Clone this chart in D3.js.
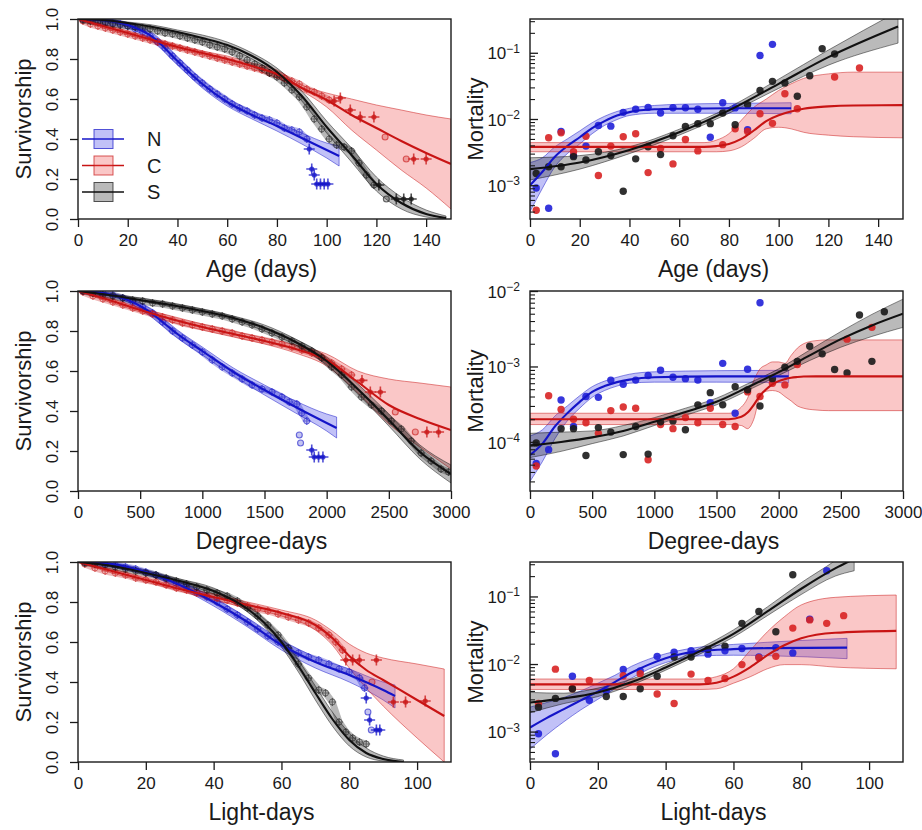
<!DOCTYPE html>
<html lang="en">
<head>
<meta charset="utf-8">
<title>Survivorship and mortality</title>
<script src="https://d3js.org/d3.v7.min.js"></script>
<style>
  body { margin: 0; background: #fff; }
  svg text { font-family: "Liberation Sans", Arial, sans-serif; fill: #1a1a1a; }
</style>
</head>
<body>
<svg id="chart" width="922" height="830"></svg>
<script>

// ---------------- data: survivorship vs age ----------------
var ageN_x   = [0, 10, 20, 30, 40, 50, 60, 70, 80, 90, 100, 105];
var ageN_fit = [1, 0.995, 0.97, 0.91, 0.79, 0.675, 0.585, 0.52, 0.465, 0.405, 0.345, 0.315];
var ageN_lo  = [1, 0.99, 0.96, 0.89, 0.77, 0.655, 0.565, 0.50, 0.44, 0.375, 0.305, 0.265];
var ageN_hi  = [1, 1, 0.98, 0.93, 0.81, 0.695, 0.605, 0.54, 0.485, 0.43, 0.38, 0.365];
var ageN_obs = [[2,1],[5,0.995],[8,0.99],[11,0.985],[14,0.98],[17,0.975],[20,0.965],[23,0.95],[26,0.935],[29,0.915],[32,0.885],[35,0.855],[38,0.815],[41,0.78],[44,0.745],[47,0.71],[50,0.68],[53,0.65],[56,0.625],[59,0.6],[62,0.575],[65,0.555],[68,0.54],[71,0.52],[74,0.505],[77,0.495],[80,0.48],[83,0.455],[86,0.445],[89,0.435],[92,0.40]];
var ageN_tail = [[93,0.35,"+"],[94,0.25,"+"],[95,0.22,"+"],[96,0.175,"+"],[97.5,0.175,"+"],[99,0.175,"+"],[100.5,0.175,"+"]];

var ageC_x   = [0, 10, 20, 30, 40, 50, 60, 70, 80, 90, 100, 110, 120, 130, 140, 150];
var ageC_fit = [1, 0.965, 0.93, 0.895, 0.86, 0.83, 0.80, 0.765, 0.725, 0.655, 0.595, 0.52, 0.455, 0.39, 0.33, 0.275];
var ageC_lo  = [1, 0.955, 0.92, 0.885, 0.85, 0.82, 0.785, 0.75, 0.705, 0.64, 0.56, 0.445, 0.345, 0.245, 0.155, 0.05];
var ageC_hi  = [1, 0.975, 0.94, 0.905, 0.87, 0.84, 0.815, 0.78, 0.745, 0.67, 0.63, 0.60, 0.57, 0.545, 0.52, 0.50];
var ageC_obs = [[2,0.99],[5,0.975],[8,0.965],[11,0.955],[14,0.945],[17,0.935],[20,0.925],[23,0.915],[26,0.905],[29,0.895],[32,0.885],[35,0.875],[38,0.865],[41,0.855],[44,0.845],[47,0.835],[50,0.825],[53,0.815],[56,0.805],[59,0.795],[62,0.785],[65,0.775],[68,0.765],[71,0.755],[74,0.745],[77,0.73],[80,0.72],[83,0.705],[86,0.69],[89,0.675],[92,0.65],[95,0.635],[98,0.615],[101,0.595]];
var ageC_tail = [[103,0.59,"+"],[105.5,0.605,"+"],[109.5,0.545,"+"],[113.5,0.51,"+"],[119,0.51,"+"],[123.5,0.41,"o"],[132,0.30,"o"],[135,0.30,"+"],[140,0.30,"+"]];

var ageS_x   = [0, 10, 20, 30, 40, 50, 60, 70, 80, 90, 100, 110, 120, 130, 140, 148];
var ageS_fit = [1, 0.995, 0.98, 0.96, 0.935, 0.905, 0.87, 0.815, 0.735, 0.615, 0.46, 0.32, 0.175, 0.08, 0.025, 0.005];
var ageS_lo  = [1, 0.99, 0.975, 0.95, 0.925, 0.89, 0.855, 0.80, 0.715, 0.59, 0.43, 0.285, 0.14, 0.05, 0.01, 0];
var ageS_hi  = [1, 1, 0.985, 0.97, 0.945, 0.92, 0.885, 0.83, 0.755, 0.64, 0.49, 0.355, 0.21, 0.11, 0.045, 0.015];
var ageS_obs = [[2,0.995],[5,0.99],[8,0.985],[11,0.98],[14,0.975],[17,0.97],[20,0.965],[23,0.96],[26,0.955],[29,0.95],[32,0.94],[35,0.93],[38,0.925],[41,0.915],[44,0.905],[47,0.895],[50,0.885],[53,0.87],[56,0.86],[59,0.85],[62,0.835],[65,0.815],[68,0.795],[71,0.775],[74,0.755],[77,0.73],[80,0.71],[83,0.68],[86,0.645],[89,0.61],[92,0.56],[95,0.50],[98,0.45],[101,0.40],[104,0.37],[107,0.36],[110,0.34],[113,0.28],[116,0.22],[119,0.17]];
var ageS_tail = [[121,0.17,"+"],[124,0.10,"o"],[128,0.10,"+"],[131,0.10,"+"],[134,0.10,"+"]];

// ---------------- data: mortality vs age ----------------
var ageMN_x   = [0, 5, 10, 15, 20, 25, 30, 35, 40, 50, 60, 80, 105];
var ageMN_fit = [1.0e-3, 1.6e-3, 2.7e-3, 3.9e-3, 5.3e-3, 7.3e-3, 9.3e-3, 0.0113, 0.0127, 0.014, 0.0143, 0.0145, 0.0145];
var ageMN_lo  = [4.0e-4, 9.0e-4, 1.9e-3, 3.0e-3, 4.2e-3, 6.0e-3, 8.0e-3, 9.8e-3, 0.0113, 0.0122, 0.0122, 0.0122, 0.012];
var ageMN_hi  = [2.2e-3, 2.6e-3, 3.8e-3, 5.0e-3, 6.6e-3, 8.8e-3, 0.011, 0.013, 0.0145, 0.016, 0.0167, 0.0172, 0.0176];
var ageMN_pts = [[2.5,9.1e-4],[7.5,4.5e-4],[12.5,6.5e-3],[17.5,2.8e-3],[22.5,3.9e-3],[27.5,8.0e-3],[32.5,7.8e-3],[37.5,0.0126],[42.5,0.014],[47.5,0.015],[52.5,0.0123],[57.5,0.0148],[62.5,0.0148],[67.5,0.014],[72.5,5.3e-3],[77.5,0.0176],[82.5,0.0147],[87.5,6.9e-3],[92.5,0.091],[97.5,0.134]];

var ageMC_x   = [0, 70, 75, 80, 85, 90, 95, 100, 105, 110, 120, 130, 150];
var ageMC_fit = [3.8e-3, 3.8e-3, 3.9e-3, 4.2e-3, 5.0e-3, 6.7e-3, 9.3e-3, 0.0114, 0.013, 0.0143, 0.0155, 0.016, 0.0162];
var ageMC_lo  = [3.2e-3, 3.2e-3, 3.2e-3, 3.3e-3, 3.8e-3, 5.1e-3, 7.1e-3, 7.5e-3, 7.1e-3, 6.3e-3, 5.7e-3, 5.4e-3, 5.2e-3];
var ageMC_hi  = [4.4e-3, 4.4e-3, 4.8e-3, 6.0e-3, 9.6e-3, 0.015, 0.020, 0.027, 0.034, 0.041, 0.048, 0.051, 0.051];
var ageMC_pts = [[2.5,4.2e-4],[7.5,5.2e-3],[12.5,6.2e-3],[17.5,3.2e-3],[22.5,5.5e-3],[27.5,1.4e-3],[32.5,3.9e-3],[37.5,5.4e-3],[42.5,6.0e-3],[47.5,1.55e-3],[52.5,3.6e-3],[57.5,2.1e-3],[62.5,4.9e-3],[67.5,3.3e-3],[77.5,4.1e-3],[82.5,7.1e-3],[87.5,6.5e-3],[92.5,0.012],[97.5,8.6e-3],[102.5,0.024],[107.5,0.0143],[122.5,0.043],[132.5,0.059]];

var ageMS_x   = [0, 20, 40, 60, 80, 100, 120, 148];
var ageMS_fit = [1.75e-3, 2.2e-3, 3.4e-3, 6.3e-3, 0.0135, 0.034, 0.086, 0.25];
var ageMS_lo  = [1.2e-3, 1.75e-3, 3.0e-3, 5.7e-3, 0.0122, 0.029, 0.065, 0.14];
var ageMS_hi  = [2.6e-3, 2.8e-3, 3.8e-3, 7.0e-3, 0.015, 0.040, 0.11, 0.42];
var ageMS_pts = [[2.5,1.5e-3],[7.5,1.9e-3],[12.5,1.9e-3],[17.5,2.7e-3],[22.5,2.4e-3],[27.5,3.2e-3],[32.5,2.8e-3],[37.5,8.1e-4],[42.5,2.5e-3],[47.5,3.8e-3],[52.5,2.9e-3],[57.5,5.6e-3],[62.5,7.7e-3],[67.5,8.5e-3],[72.5,8.5e-3],[77.5,0.0123],[82.5,8.2e-3],[87.5,0.0164],[92.5,0.027],[97.5,0.037],[102.5,0.035],[107.5,0.022],[112.5,0.045],[117.5,0.115],[122.5,0.096]];

// ---------------- data: survivorship vs degree-days ----------------
var ddN_x   = [0, 200, 400, 500, 600, 700, 800, 1000, 1250, 1500, 1750, 2000, 2080];
var ddN_fit = [1, 0.99, 0.955, 0.925, 0.885, 0.835, 0.785, 0.70, 0.595, 0.505, 0.42, 0.34, 0.315];
var ddN_lo  = [1, 0.985, 0.945, 0.91, 0.865, 0.815, 0.765, 0.68, 0.575, 0.48, 0.39, 0.30, 0.265];
var ddN_hi  = [1, 0.995, 0.965, 0.94, 0.905, 0.855, 0.805, 0.72, 0.615, 0.53, 0.45, 0.385, 0.37];
var ddN_obs = [[40,1],[120,0.995],[200,0.99],[280,0.98],[360,0.965],[440,0.945],[520,0.92],[600,0.89],[680,0.845],[760,0.80],[840,0.765],[920,0.73],[1000,0.695],[1080,0.655],[1160,0.62],[1240,0.59],[1320,0.56],[1400,0.53],[1480,0.51],[1560,0.495],[1640,0.47],[1700,0.445],[1760,0.435],[1800,0.39],[1840,0.35]];
var ddN_tail = [[1780,0.28,"o"],[1790,0.24,"o"],[1880,0.205,"+"],[1900,0.17,"+"],[1935,0.17,"+"],[1970,0.17,"+"]];

var ddC_x   = [0, 250, 500, 750, 1000, 1250, 1500, 1750, 2000, 2250, 2500, 2750, 3000];
var ddC_fit = [1, 0.955, 0.905, 0.86, 0.82, 0.785, 0.75, 0.71, 0.655, 0.545, 0.43, 0.36, 0.305];
var ddC_lo  = [1, 0.945, 0.895, 0.845, 0.805, 0.77, 0.735, 0.69, 0.625, 0.49, 0.335, 0.22, 0.11];
var ddC_hi  = [1, 0.965, 0.915, 0.875, 0.835, 0.80, 0.765, 0.73, 0.685, 0.60, 0.56, 0.54, 0.52];
var ddC_obs = [[40,0.995],[120,0.975],[200,0.96],[280,0.945],[360,0.93],[440,0.915],[520,0.90],[600,0.885],[680,0.87],[760,0.855],[840,0.84],[920,0.83],[1000,0.82],[1080,0.81],[1160,0.80],[1240,0.79],[1320,0.775],[1400,0.765],[1480,0.755],[1560,0.745],[1640,0.735],[1720,0.72],[1800,0.705],[1880,0.69],[1960,0.67],[2040,0.64],[2120,0.61],[2200,0.58]];
var ddC_tail = [[2284,0.553,"+"],[2351,0.495,"+"],[2432,0.495,"+"],[2552,0.395,"o"],[2713,0.295,"o"],[2806,0.295,"+"],[2900,0.295,"+"]];

var ddS_x   = [0, 250, 500, 750, 1000, 1250, 1500, 1750, 2000, 2250, 2500, 2750, 3000];
var ddS_fit = [1, 0.98, 0.955, 0.93, 0.90, 0.865, 0.815, 0.745, 0.65, 0.51, 0.355, 0.195, 0.085];
var ddS_lo  = [1, 0.975, 0.95, 0.92, 0.89, 0.855, 0.80, 0.73, 0.63, 0.485, 0.325, 0.16, 0.04];
var ddS_hi  = [1, 0.985, 0.965, 0.94, 0.91, 0.875, 0.83, 0.76, 0.67, 0.535, 0.385, 0.23, 0.13];
var ddS_obs = [[40,1],[120,0.99],[200,0.98],[280,0.975],[360,0.965],[440,0.955],[520,0.95],[600,0.94],[680,0.935],[760,0.925],[840,0.915],[920,0.905],[1000,0.895],[1080,0.885],[1160,0.875],[1240,0.86],[1320,0.845],[1400,0.83],[1480,0.81],[1560,0.79],[1640,0.77],[1720,0.75],[1800,0.725],[1880,0.70],[1960,0.665],[2040,0.62],[2120,0.58],[2200,0.52],[2280,0.47],[2360,0.43],[2440,0.40],[2520,0.35],[2600,0.31],[2680,0.25],[2760,0.19],[2840,0.15],[2920,0.11],[2980,0.095]];
var ddS_tail = [];

// ---------------- data: mortality vs degree-days ----------------
var ddMN_x   = [0, 100, 200, 300, 400, 500, 600, 700, 800, 1000, 1500, 2080];
var ddMN_fit = [6.7e-5, 9.5e-5, 1.6e-4, 2.4e-4, 3.4e-4, 4.6e-4, 5.5e-4, 6.2e-4, 6.7e-4, 7.2e-4, 7.4e-4, 7.4e-4];
var ddMN_lo  = [3.0e-5, 5.5e-5, 1.1e-4, 1.9e-4, 2.8e-4, 3.9e-4, 4.8e-4, 5.5e-4, 6.0e-4, 6.2e-4, 6.2e-4, 6.1e-4];
var ddMN_hi  = [1.2e-4, 1.45e-4, 2.2e-4, 3.0e-4, 4.1e-4, 5.4e-4, 6.4e-4, 7.2e-4, 7.9e-4, 8.5e-4, 8.8e-4, 8.9e-4];
var ddMN_pts = [[50,5.2e-5],[150,7.9e-5],[250,3.6e-4],[350,1.6e-4],[450,4.0e-4],[550,3.9e-4],[650,6.6e-4],[750,5.8e-4],[850,6.6e-4],[950,7.6e-4],[1050,8.9e-4],[1150,7.2e-4],[1250,6.9e-4],[1350,6.6e-4],[1450,3.3e-4],[1550,1.1e-3],[1650,2.4e-4],[1750,9.2e-4],[1850,7.0e-3]];

var ddMC_x   = [0, 1600, 1700, 1750, 1800, 1850, 1900, 1950, 2000, 2050, 2100, 2150, 2200, 2300, 2400, 3000];
var ddMC_fit = [2.0e-4, 2.0e-4, 2.15e-4, 2.45e-4, 3.1e-4, 4.1e-4, 5.0e-4, 5.8e-4, 6.4e-4, 6.8e-4, 7.1e-4, 7.25e-4, 7.35e-4, 7.4e-4, 7.4e-4, 7.4e-4];
var ddMC_lo  = [1.7e-4, 1.7e-4, 1.65e-4, 1.5e-4, 2.0e-4, 4.0e-4, 4.7e-4, 4.8e-4, 4.6e-4, 4.0e-4, 3.5e-4, 3.0e-4, 2.8e-4, 2.65e-4, 2.6e-4, 2.6e-4];
var ddMC_hi  = [2.4e-4, 2.4e-4, 2.9e-4, 3.8e-4, 6.5e-4, 9.3e-4, 1.05e-3, 1.15e-3, 1.15e-3, 1.1e-3, 1.4e-3, 1.75e-3, 2.0e-3, 2.2e-3, 2.25e-3, 2.25e-3];
var ddMC_pts = [[50,4.8e-5],[150,4.1e-4],[250,2.7e-4],[350,2.0e-4],[450,1.8e-4],[550,1.3e-4],[650,2.6e-4],[750,2.9e-4],[850,2.8e-4],[950,5.8e-5],[1050,1.7e-4],[1150,1.5e-4],[1250,2.1e-4],[1350,1.8e-4],[1450,2.8e-4],[1550,1.7e-4],[1650,1.6e-4],[1750,4.6e-4],[1850,4.0e-4],[1950,6.0e-4],[2050,5.7e-4],[2150,1.06e-3],[2550,2.3e-3],[2750,3.3e-3]];

var ddMS_x   = [0, 250, 500, 750, 1000, 1250, 1500, 1750, 2000, 2250, 2500, 2750, 3000];
var ddMS_fit = [9.0e-5, 1.0e-4, 1.15e-4, 1.4e-4, 1.85e-4, 2.5e-4, 3.4e-4, 5.3e-4, 8.4e-4, 1.4e-3, 2.3e-3, 3.5e-3, 5.0e-3];
var ddMS_lo  = [6.2e-5, 7.5e-5, 9.5e-5, 1.2e-4, 1.65e-4, 2.25e-4, 3.1e-4, 4.8e-4, 7.6e-4, 1.2e-3, 1.8e-3, 2.5e-3, 3.3e-3];
var ddMS_hi  = [1.3e-4, 1.35e-4, 1.4e-4, 1.65e-4, 2.1e-4, 2.8e-4, 3.8e-4, 5.9e-4, 9.3e-4, 1.65e-3, 2.9e-3, 4.9e-3, 7.8e-3];
var ddMS_pts = [[50,9.7e-5],[250,1.5e-4],[350,1.5e-4],[450,6.6e-5],[550,1.55e-4],[650,1.35e-4],[750,6.8e-5],[850,1.6e-4],[950,6.9e-5],[1050,1.85e-4],[1150,1.9e-4],[1250,1.45e-4],[1350,3.1e-4],[1450,4.5e-4],[1550,3.1e-4],[1650,5.4e-4],[1750,4.9e-4],[1850,3.0e-4],[1950,6.9e-4],[2050,9.8e-4],[2150,1.17e-3],[2250,1.85e-3],[2350,1.47e-3],[2450,9.1e-4],[2550,8.2e-4],[2650,4.8e-3],[2750,1.17e-3],[2850,5.3e-3]];

// ---------------- data: survivorship vs light-days ----------------
var ldN_x   = [0, 10, 20, 30, 40, 50, 60, 70, 80, 90, 93.5];
var ldN_fit = [1, 0.99, 0.95, 0.885, 0.80, 0.70, 0.585, 0.50, 0.435, 0.36, 0.33];
var ldN_lo  = [1, 0.985, 0.94, 0.87, 0.78, 0.675, 0.56, 0.47, 0.40, 0.31, 0.27];
var ldN_hi  = [1, 0.995, 0.96, 0.90, 0.82, 0.72, 0.61, 0.525, 0.465, 0.40, 0.385];
var ldN_obs = [[2,1],[5,0.995],[8,0.99],[11,0.985],[14,0.975],[17,0.965],[20,0.95],[23,0.935],[26,0.915],[29,0.895],[32,0.875],[35,0.85],[38,0.825],[41,0.80],[44,0.765],[47,0.735],[50,0.70],[53,0.665],[56,0.63],[59,0.60],[62,0.57],[65,0.545],[68,0.525],[71,0.51],[74,0.49],[77,0.465],[80,0.45],[83,0.42],[84.5,0.37]];
var ldN_tail = [[85,0.32,"+"],[85.5,0.25,"o"],[86,0.21,"+"],[86.5,0.16,"o"],[88,0.16,"+"],[89,0.16,"+"]];

var ldC_x   = [0, 10, 20, 30, 40, 50, 60, 70, 75, 80, 85, 90, 100, 108];
var ldC_fit = [1, 0.955, 0.91, 0.865, 0.825, 0.785, 0.745, 0.685, 0.62, 0.53, 0.46, 0.41, 0.31, 0.23];
var ldC_lo  = [1, 0.945, 0.90, 0.855, 0.81, 0.77, 0.73, 0.66, 0.585, 0.47, 0.37, 0.28, 0.12, 0.0];
var ldC_hi  = [1, 0.965, 0.92, 0.875, 0.84, 0.80, 0.76, 0.71, 0.655, 0.59, 0.545, 0.52, 0.49, 0.465];
var ldC_obs = [[2,0.99],[5,0.97],[8,0.955],[11,0.945],[14,0.935],[17,0.92],[20,0.91],[23,0.90],[26,0.885],[29,0.87],[32,0.86],[35,0.845],[38,0.83],[41,0.82],[44,0.81],[47,0.795],[50,0.78],[53,0.765],[56,0.755],[59,0.74],[62,0.725],[65,0.71],[68,0.695],[71,0.67],[74,0.635],[76,0.60],[78,0.56]];
var ldC_tail = [[79,0.51,"+"],[81,0.51,"+"],[83,0.51,"+"],[88,0.51,"+"],[86.7,0.40,"o"],[93,0.30,"+"],[96.6,0.30,"+"],[102.4,0.305,"+"]];

var ldS_x   = [0, 10, 20, 30, 40, 50, 55, 60, 65, 70, 75, 80, 85, 90, 96];
var ldS_fit = [1, 0.98, 0.945, 0.905, 0.855, 0.765, 0.695, 0.60, 0.48, 0.345, 0.215, 0.11, 0.045, 0.015, 0.0];
var ldS_lo  = [1, 0.975, 0.935, 0.895, 0.84, 0.75, 0.675, 0.575, 0.45, 0.31, 0.18, 0.08, 0.025, 0.005, 0];
var ldS_hi  = [1, 0.985, 0.955, 0.915, 0.87, 0.78, 0.715, 0.625, 0.51, 0.38, 0.25, 0.145, 0.07, 0.03, 0.01];
var ldS_obs = [[2,0.995],[5,0.99],[8,0.985],[11,0.975],[14,0.965],[17,0.955],[20,0.945],[23,0.935],[26,0.92],[29,0.905],[32,0.89],[35,0.875],[38,0.86],[41,0.845],[44,0.83],[47,0.805],[50,0.77],[53,0.73],[56,0.685],[59,0.635],[62,0.57],[65,0.49],[68,0.42],[71,0.36],[73,0.345],[75,0.30],[77,0.20],[79,0.15],[81,0.12],[83,0.10],[85,0.09]];
var ldS_tail = [];

// ---------------- data: mortality vs light-days ----------------
var ldMN_x   = [0, 5, 10, 15, 20, 25, 30, 35, 40, 45, 50, 60, 70, 93.5];
var ldMN_fit = [1.15e-3, 1.6e-3, 2.15e-3, 2.9e-3, 3.9e-3, 5.4e-3, 7.5e-3, 9.8e-3, 0.0122, 0.0142, 0.0155, 0.0166, 0.0172, 0.0175];
var ldMN_lo  = [5.5e-4, 9e-4, 1.4e-3, 2.1e-3, 3.0e-3, 4.3e-3, 6.2e-3, 8.4e-3, 0.0105, 0.0122, 0.0132, 0.0135, 0.0133, 0.012];
var ldMN_hi  = [2.3e-3, 2.7e-3, 3.2e-3, 4.0e-3, 5.2e-3, 6.8e-3, 9.3e-3, 0.0118, 0.0142, 0.0162, 0.0178, 0.0195, 0.021, 0.024];
var ldMN_pts = [[2.5,9.3e-4],[7.5,4.7e-4],[12.5,6.6e-3],[17.5,2.9e-3],[22.5,4.0e-3],[27.5,8.3e-3],[32.5,7.9e-3],[37.5,0.013],[42.5,0.015],[47.5,0.0157],[52.5,0.014],[57.5,0.0157],[62.5,0.017],[67.5,0.0127],[72.5,0.0175],[77.5,0.0146],[82.5,0.046],[87.5,0.24]];

var ldMC_x   = [0, 50, 55, 60, 65, 70, 75, 80, 90, 108];
var ldMC_fit = [5.0e-3, 5.0e-3, 5.3e-3, 6.5e-3, 9.0e-3, 0.0135, 0.019, 0.024, 0.029, 0.031];
var ldMC_lo  = [4.2e-3, 4.2e-3, 4.3e-3, 5.2e-3, 6.5e-3, 8.5e-3, 9.8e-3, 9.8e-3, 9.0e-3, 8.5e-3];
var ldMC_hi  = [6.0e-3, 6.0e-3, 6.5e-3, 8.5e-3, 0.016, 0.030, 0.050, 0.075, 0.097, 0.105];
var ldMC_pts = [[2.5,2.6e-3],[7.5,8.4e-3],[12.5,4.3e-3],[17.5,5.7e-3],[27.5,6.7e-3],[32.5,7.2e-3],[37.5,3.6e-3],[42.5,2.6e-3],[47.5,7.1e-3],[52.5,5.7e-3],[57.5,6.1e-3],[62.5,9.8e-3],[67.5,0.0124],[72.5,0.013],[77.5,0.034],[82.5,0.045],[87.5,0.040],[92.5,0.052]];

var ldMS_x   = [0, 10, 20, 30, 40, 50, 60, 70, 80, 90, 95.6];
var ldMS_fit = [2.7e-3, 3.1e-3, 3.8e-3, 5.4e-3, 8.9e-3, 0.0154, 0.028, 0.06, 0.13, 0.26, 0.36];
var ldMS_lo  = [1.9e-3, 2.6e-3, 3.3e-3, 4.9e-3, 8.1e-3, 0.014, 0.025, 0.052, 0.107, 0.2, 0.24];
var ldMS_hi  = [3.8e-3, 3.7e-3, 4.4e-3, 6.0e-3, 9.8e-3, 0.017, 0.032, 0.07, 0.16, 0.34, 0.55];
var ldMS_pts = [[2.5,2.3e-3],[7.5,3.1e-3],[12.5,4.3e-3],[22.5,3.3e-3],[27.5,3.3e-3],[32.5,4.3e-3],[37.5,6.6e-3],[42.5,0.0127],[47.5,0.0127],[52.5,0.0165],[57.5,0.0183],[62.5,0.040],[67.5,0.060],[72.5,0.030],[77.5,0.21]];

// axis ticks / labels
var survTicks = [0, 0.2, 0.4, 0.6, 0.8, 1.0];
var ageTicks = [0, 20, 40, 60, 80, 100, 120, 140];
var ddTicks = [0, 500, 1000, 1500, 2000, 2500, 3000];
var ldTicks = [0, 20, 40, 60, 80, 100];
var groups = ["N", "C", "S"];

// ---------------- styles ----------------
var lineCol = { N: "#1414c8", C: "#c81414", S: "#111111" };
var ptCol   = { N: "#2020d8", C: "#d82424", S: "#1a1a1a" };
var bandCol = { N: "rgba(50,50,230,0.30)", C: "rgba(240,70,70,0.30)", S: "rgba(0,0,0,0.27)" };

var PW = 373, PH = 200;

function ser(key, x, fit, lo, hi, extra) {
    var s = { key: key, x: x, fit: fit, lo: lo, hi: hi };
    for (var k in extra) s[k] = extra[k];
    return s;
}

var panels = [
    { left: 78, top: 19, kind: "surv", xmax: 150, xticks: ageTicks, xlab: "Age (days)", legend: true,
      series: [ ser("N", ageN_x, ageN_fit, ageN_lo, ageN_hi, { obs: ageN_obs, tail: ageN_tail }),
                ser("C", ageC_x, ageC_fit, ageC_lo, ageC_hi, { obs: ageC_obs, tail: ageC_tail }),
                ser("S", ageS_x, ageS_fit, ageS_lo, ageS_hi, { obs: ageS_obs, tail: ageS_tail }) ] },
    { left: 530, top: 19, kind: "mort", xmax: 150, xticks: ageTicks, xlab: "Age (days)",
      ylog: [-3.51, -0.49], majors: [-3, -2, -1],
      series: [ ser("N", ageMN_x, ageMN_fit, ageMN_lo, ageMN_hi, { pts: ageMN_pts }),
                ser("C", ageMC_x, ageMC_fit, ageMC_lo, ageMC_hi, { pts: ageMC_pts }),
                ser("S", ageMS_x, ageMS_fit, ageMS_lo, ageMS_hi, { pts: ageMS_pts }) ] },
    { left: 78, top: 291, kind: "surv", xmax: 3000, xticks: ddTicks, xlab: "Degree-days",
      series: [ ser("N", ddN_x, ddN_fit, ddN_lo, ddN_hi, { obs: ddN_obs, tail: ddN_tail }),
                ser("C", ddC_x, ddC_fit, ddC_lo, ddC_hi, { obs: ddC_obs, tail: ddC_tail }),
                ser("S", ddS_x, ddS_fit, ddS_lo, ddS_hi, { obs: ddS_obs, tail: ddS_tail }) ] },
    { left: 530, top: 291, kind: "mort", xmax: 3000, xticks: ddTicks, xlab: "Degree-days",
      ylog: [-4.65, -2], majors: [-4, -3, -2],
      series: [ ser("N", ddMN_x, ddMN_fit, ddMN_lo, ddMN_hi, { pts: ddMN_pts }),
                ser("C", ddMC_x, ddMC_fit, ddMC_lo, ddMC_hi, { pts: ddMC_pts }),
                ser("S", ddMS_x, ddMS_fit, ddMS_lo, ddMS_hi, { pts: ddMS_pts }) ] },
    { left: 78, top: 562, kind: "surv", xmax: 110, xticks: ldTicks, xlab: "Light-days",
      series: [ ser("N", ldN_x, ldN_fit, ldN_lo, ldN_hi, { obs: ldN_obs, tail: ldN_tail }),
                ser("C", ldC_x, ldC_fit, ldC_lo, ldC_hi, { obs: ldC_obs, tail: ldC_tail }),
                ser("S", ldS_x, ldS_fit, ldS_lo, ldS_hi, { obs: ldS_obs, tail: ldS_tail }) ] },
    { left: 530, top: 562, kind: "mort", xmax: 110, xticks: ldTicks, xlab: "Light-days",
      ylog: [-3.45, -0.49], majors: [-3, -2, -1],
      series: [ ser("N", ldMN_x, ldMN_fit, ldMN_lo, ldMN_hi, { pts: ldMN_pts }),
                ser("C", ldMC_x, ldMC_fit, ldMC_lo, ldMC_hi, { pts: ldMC_pts }),
                ser("S", ldMS_x, ldMS_fit, ldMS_lo, ldMS_hi, { pts: ldMS_pts }) ] }
];

var svg = d3.select("#chart");

panels.forEach(function (p, i) { drawPanel(p, i); });

function drawPanel(p, idx) {
    var g = svg.append("g").attr("transform", "translate(" + p.left + "," + p.top + ")");
    var x = d3.scaleLinear().domain([0, p.xmax]).range([0, PW]);
    var y;
    if (p.kind == "surv") y = d3.scaleLinear().domain([0, 1]).range([PH, 0]);
    else y = d3.scaleLog().domain([Math.pow(10, p.ylog[0]), Math.pow(10, p.ylog[1])]).range([PH, 0]);

    var clipId = "clip" + idx;
    g.append("clipPath").attr("id", clipId).append("rect").attr("width", PW).attr("height", PH);
    var plot = g.append("g").attr("clip-path", "url(#" + clipId + ")");

    var band = d3.area().curve(d3.curveMonotoneX)
        .x(function (d) { return x(d.x); })
        .y0(function (d) { return y(Math.max(d.lo, 1e-9)); })
        .y1(function (d) { return y(d.hi); });
    var line = d3.line().curve(d3.curveMonotoneX)
        .x(function (d) { return x(d.x); })
        .y(function (d) { return y(d.v); });

    // bands first, then observations, then fitted lines
    p.series.forEach(function (s) {
        var rows = s.x.map(function (xv, j) { return { x: xv, lo: s.lo[j], hi: s.hi[j] }; });
        plot.append("path").datum(rows).attr("d", band)
            .attr("fill", bandCol[s.key]).attr("stroke", lineCol[s.key])
            .attr("stroke-opacity", 0.55).attr("stroke-width", 0.9);
    });

    p.series.forEach(function (s) {
        if (p.kind == "surv") drawObs(plot, s, x, y);
        else {
            plot.selectAll(null).data(s.pts).enter().append("circle")
                .attr("cx", function (d) { return x(d[0]); })
                .attr("cy", function (d) { return y(d[1]); })
                .attr("r", 3.7).attr("fill", ptCol[s.key]).attr("fill-opacity", 0.9);
        }
    });

    p.series.forEach(function (s) {
        var rows = s.x.map(function (xv, j) { return { x: xv, v: Math.max(s.fit[j], 1e-9) }; });
        plot.append("path").datum(rows).attr("d", line)
            .attr("fill", "none").attr("stroke", lineCol[s.key]).attr("stroke-width", 2.1);
    });

    // x axis
    var xa = g.append("g").attr("transform", "translate(0," + PH + ")")
        .call(d3.axisBottom(x).tickValues(p.xticks).tickSize(8).tickPadding(7).tickFormat(d3.format("d")));
    styleAxis(xa);

    if (p.kind == "surv") {
        var ya = g.append("g").call(d3.axisLeft(y).tickValues(survTicks).tickSize(8).tickFormat(d3.format(".1f")));
        styleAxis(ya);
        ya.selectAll("text")
            .attr("x", 0).attr("dy", "0.36em").attr("text-anchor", "middle")
            .attr("transform", "translate(-26,0) rotate(-90)");
    } else {
        drawLogAxis(g, y, p);
    }

    // frame
    g.append("rect").attr("width", PW).attr("height", PH)
        .attr("fill", "none").attr("stroke", "#1a1a1a").attr("stroke-width", 1.4);

    // titles
    g.append("text").attr("x", PW / 2 - 3).attr("y", PH + 50)
        .attr("text-anchor", "middle").attr("dominant-baseline", "central")
        .style("font-size", "23px").text(p.xlab);
    var yt = p.kind == "surv" ? "Survivorship" : "Mortality";
    g.append("text").attr("transform", "translate(-55," + (PH / 2) + ") rotate(-90)")
        .attr("text-anchor", "middle").attr("dominant-baseline", "central")
        .style("font-size", "22px").text(yt);

    if (p.legend) drawLegend(g);
}

function styleAxis(a) {
    a.select(".domain").remove();
    a.selectAll("line").attr("stroke", "#1a1a1a").attr("stroke-width", 1.3);
    a.selectAll("text").style("font-size", "17px").attr("fill", "#1a1a1a")
        .style("font-family", "'Liberation Sans', Arial, sans-serif");
}

function drawLogAxis(g, y, p) {
    var lo = Math.pow(10, p.ylog[0]), hi = Math.pow(10, p.ylog[1]);
    var minors = [];
    for (var e = Math.floor(p.ylog[0]); e <= Math.ceil(p.ylog[1]); e++) {
        for (var m = 2; m <= 9; m++) {
            var v = m * Math.pow(10, e);
            if (v >= lo && v <= hi) minors.push(v);
        }
    }
    var majors = p.majors.map(function (e) { return Math.pow(10, e); });

    var mi = g.append("g").call(d3.axisLeft(y).tickValues(minors).tickSize(-5).tickFormat(""));
    styleAxis(mi);
    mi.selectAll("line").attr("stroke-width", 1.1);

    var ma = g.append("g").call(d3.axisLeft(y).tickValues(majors).tickSize(-8).tickFormat(""));
    styleAxis(ma);

    ma.selectAll(".tick").each(function (d) {
        var t = d3.select(this).append("text")
            .attr("x", -10).attr("dy", "0.36em").attr("text-anchor", "end")
            .attr("fill", "#1a1a1a").style("font-size", "17px");
        t.append("tspan").text("10");
        t.append("tspan").attr("dy", "-0.55em").style("font-size", "12px")
            .text("\u2212" + Math.round(-Math.log10(d)));
    });
}

function drawObs(plot, s, x, y) {
    var col = lineCol[s.key];
    var ln = d3.line().x(function (d) { return x(d[0]); }).y(function (d) { return y(d[1]); });
    // the many Kaplan-Meier points overlap into a ragged band
    plot.append("path").datum(s.obs).attr("d", ln)
        .attr("fill", "none").attr("stroke", col).attr("stroke-opacity", 0.3)
        .attr("stroke-width", 7).attr("stroke-linejoin", "round").attr("stroke-linecap", "round");

    plot.selectAll(null).data(s.obs).enter().append("circle")
        .attr("cx", function (d) { return x(d[0]); })
        .attr("cy", function (d) { return y(d[1]); })
        .attr("r", 3).attr("fill", "none").attr("stroke", col)
        .attr("stroke-opacity", 0.5).attr("stroke-width", 1);
    plot.selectAll(null).data(s.obs).enter().append("path")
        .attr("d", function (d) {
            var cx = x(d[0]), cy = y(d[1]);
            return "M" + (cx - 4) + "," + cy + "H" + (cx + 4) + "M" + cx + "," + (cy - 4) + "V" + (cy + 4);
        })
        .attr("stroke", col).attr("stroke-opacity", 0.5).attr("stroke-width", 1.2);

    // sparse tail of the Kaplan-Meier points
    s.tail.forEach(function (d) {
        var cx = x(d[0]), cy = y(d[1]);
        if (d[2] == "o") {
            plot.append("circle").attr("cx", cx).attr("cy", cy).attr("r", 3)
                .attr("fill", col).attr("fill-opacity", 0.25)
                .attr("stroke", col).attr("stroke-opacity", 0.6).attr("stroke-width", 1.1);
        } else {
            plot.append("path")
                .attr("d", "M" + (cx - 5.5) + "," + cy + "H" + (cx + 5.5) + "M" + cx + "," + (cy - 5.5) + "V" + (cy + 5.5))
                .attr("stroke", col).attr("stroke-opacity", 0.75).attr("stroke-width", 1.6);
            plot.append("circle").attr("cx", cx).attr("cy", cy).attr("r", 2.6)
                .attr("fill", col).attr("fill-opacity", 0.75);
        }
    });
}

function drawLegend(g) {
    // legend sits inside the first panel, left side
    var lg = g.append("g").attr("transform", "translate(4,120)");
    groups.forEach(function (k, i) {
        var row = lg.append("g").attr("transform", "translate(0," + (i * 26.5) + ")");
        row.append("line").attr("x1", 0).attr("x2", 42).attr("y1", 0).attr("y2", 0)
            .attr("stroke", lineCol[k]).attr("stroke-width", 1.6);
        row.append("rect").attr("x", 12).attr("y", -9.5).attr("width", 19).attr("height", 19)
            .attr("fill", bandCol[k]).attr("stroke", lineCol[k]).attr("stroke-opacity", 0.7).attr("stroke-width", 1);
        row.append("text").attr("x", 65).attr("y", 0).attr("dominant-baseline", "central")
            .style("font-size", "20px").text(k);
    });
}

</script>
</body>
</html>
